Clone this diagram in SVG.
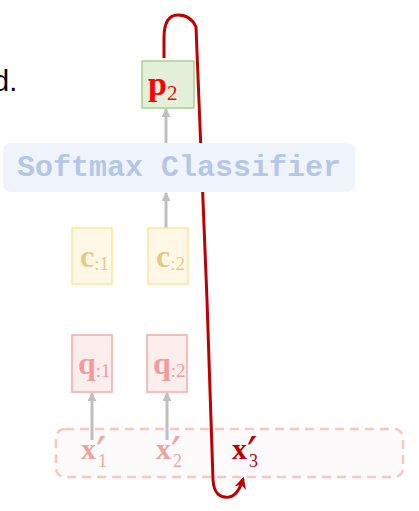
<svg xmlns="http://www.w3.org/2000/svg" width="419" height="511" viewBox="0 0 419 511">
<defs>
<marker id="ga" viewBox="0 0 10 10" refX="9" refY="5" markerWidth="3" markerHeight="3" orient="auto" markerUnits="strokeWidth">
<path d="M0,0 L10,5 L0,10 z" fill="#bfbfbf"/>
</marker>
<marker id="ra" viewBox="0 0 10 10" refX="8" refY="5" markerWidth="4" markerHeight="4" orient="auto" markerUnits="strokeWidth">
<path d="M0,0 L10,5 L0,10 L3,5 z" fill="#c00000"/>
</marker>
<style>
.m{font-family:"Liberation Serif","DejaVu Serif",serif;font-weight:bold}
.s{font-family:"Liberation Serif","DejaVu Serif",serif;font-weight:normal}
.pr{font-family:"DejaVu Serif",serif;font-weight:normal}
.g{stroke:#bfbfbf;stroke-width:3;fill:none;marker-end:url(#ga)}
</style>
</defs>
<text x="-7" y="91" font-family="Liberation Sans, Arial, sans-serif" font-size="29" fill="#000">d.</text>
<g id="dashbox">
<rect x="56" y="429" width="347" height="48" rx="9" fill="#fcfafa" stroke="#f5c8c0" stroke-width="2.5" stroke-dasharray="9,6"/>
</g>
<g id="connectors">
<line class="g" x1="166" y1="143" x2="166" y2="109"/>
<line class="g" x1="166" y1="228" x2="166" y2="193"/>
<line class="g" x1="92" y1="440" x2="92" y2="393"/>
<line class="g" x1="167" y1="440" x2="167" y2="393"/>
<path d="M164,58 L164,38 C164,20 170,15 178,15 C186,15 192,18 196,27 L207,300 L213,480 C214,494 220,498 229,497 C236,496 240,489 243,479" fill="none" stroke="#c00000" stroke-width="3" marker-end="url(#ra)"/>
</g>
<g id="p2">
<rect x="142" y="61" width="52" height="47" fill="#e2efd9" stroke="#a9d18e" stroke-width="1.5"/>
<text x="148" y="95" class="m" font-size="34" fill="#ff0000">p<tspan class="s" font-size="21" dy="5">2</tspan></text>
</g>
<g id="softmax">
<rect x="3" y="143" width="352" height="49" rx="8" fill="#eff4fb"/>
<text x="179" y="176" text-anchor="middle" font-family="Liberation Mono, Courier New, monospace" font-weight="bold" font-size="30" fill="#b4c7e7">Softmax Classifier</text>
</g>
<g id="c1">
<rect x="72" y="228" width="40" height="56" fill="#fff8e7" stroke="#ffe699" stroke-width="1.5"/>
<text x="80" y="267" class="m" font-size="32" fill="#e3cc85">c<tspan class="s" font-size="19" dy="3">:1</tspan></text>
</g>
<g id="c2">
<rect x="148" y="228" width="40" height="56" fill="#fff8e7" stroke="#ffe699" stroke-width="1.5"/>
<text x="156" y="267" class="m" font-size="32" fill="#e3cc85">c<tspan class="s" font-size="19" dy="3">:2</tspan></text>
</g>
<g id="q1">
<rect x="72" y="335" width="40" height="57" fill="#fdeeee" stroke="#f7a8a8" stroke-width="1.5"/>
<text x="78" y="374" class="m" font-size="32" fill="#f59a9a">q<tspan class="s" font-size="19" dy="3">:1</tspan></text>
</g>
<g id="q2">
<rect x="147" y="335" width="40" height="57" fill="#fdeeee" stroke="#f7a8a8" stroke-width="1.5"/>
<text x="153" y="374" class="m" font-size="32" fill="#f59a9a">q<tspan class="s" font-size="19" dy="3">:2</tspan></text>
</g>
<g id="x1">
<text class="m" font-size="30" fill="#eea49c"><tspan x="81" y="459">x</tspan><tspan class="pr" font-size="46" x="96" y="470">′</tspan><tspan class="s" font-size="18" x="98" y="467">1</tspan></text>
</g>
<g id="x2">
<text class="m" font-size="30" fill="#eea49c"><tspan x="156" y="459">x</tspan><tspan class="pr" font-size="46" x="171" y="470">′</tspan><tspan class="s" font-size="18" x="173" y="467">2</tspan></text>
</g>
<g id="x3">
<text class="m" font-size="30" fill="#c00000"><tspan x="232" y="459">x</tspan><tspan class="pr" font-size="46" x="247" y="470">′</tspan><tspan class="s" font-size="18" x="249" y="467">3</tspan></text>
</g>
</svg>
